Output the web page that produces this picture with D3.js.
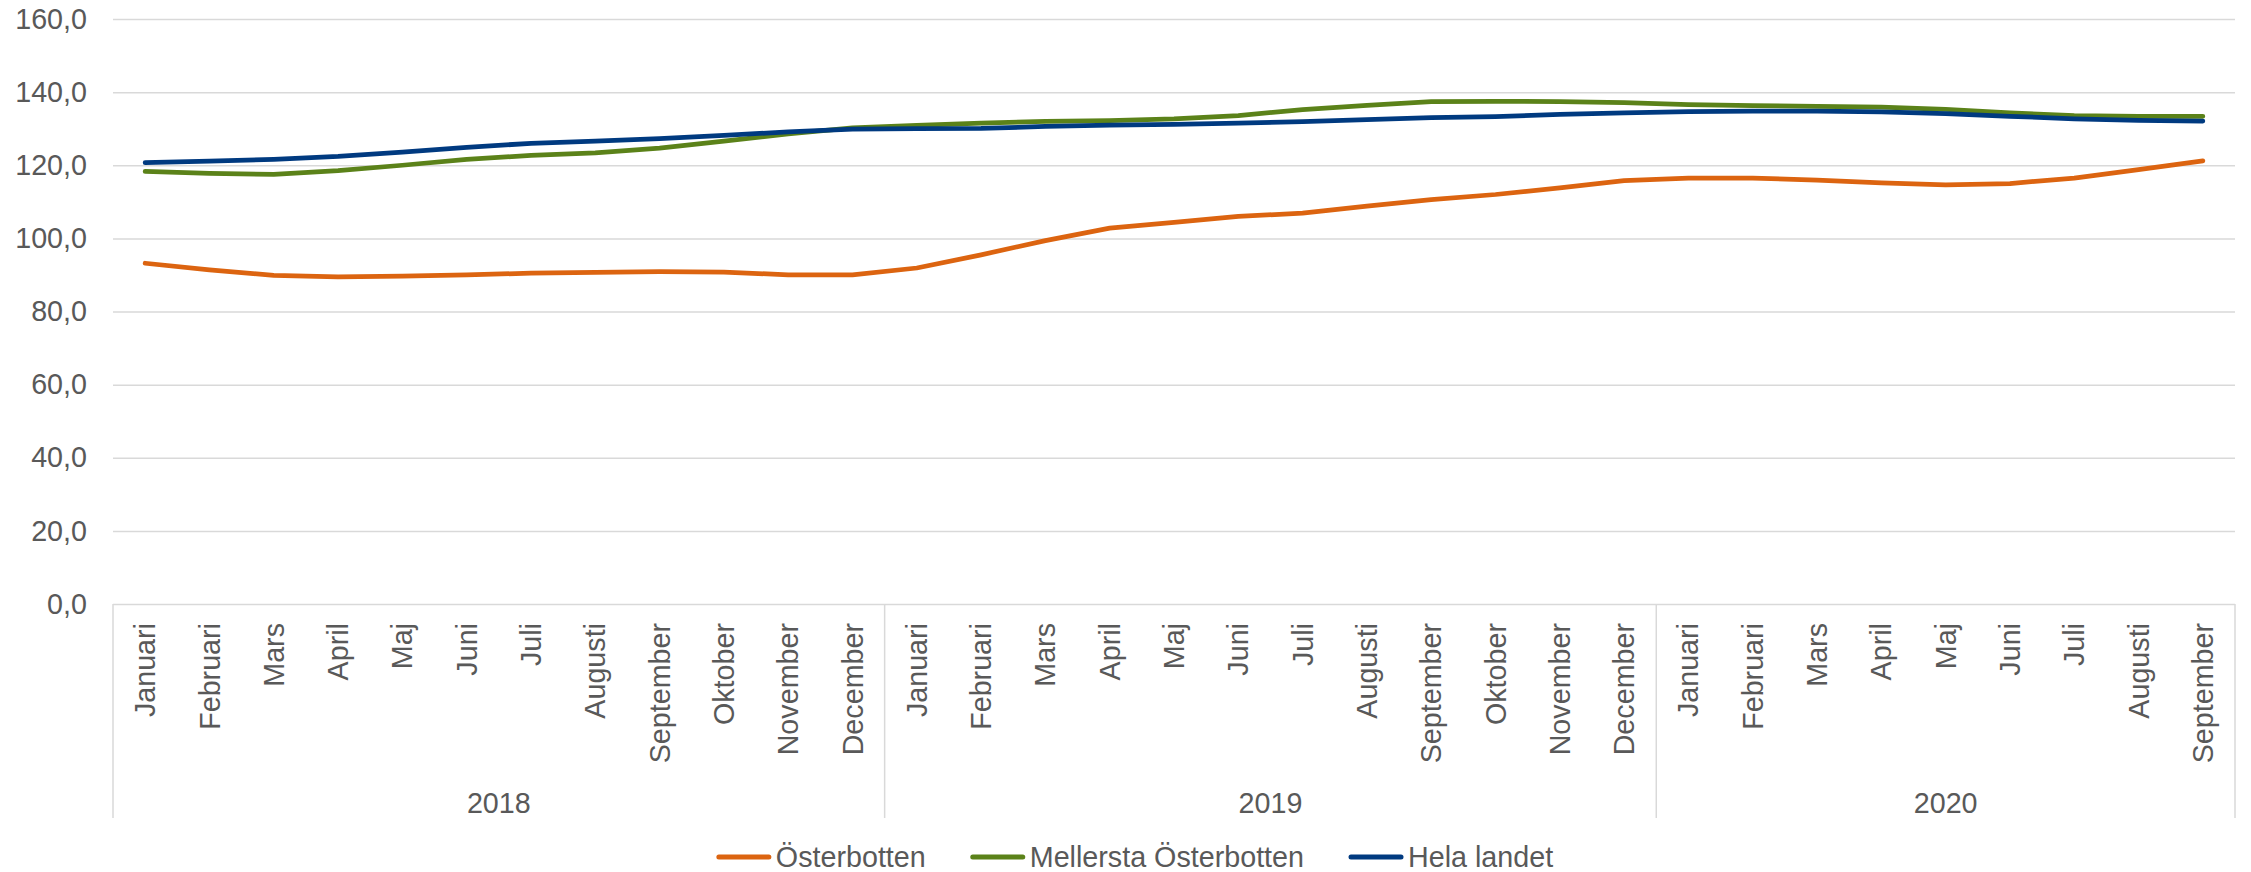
<!DOCTYPE html>
<html>
<head>
<meta charset="utf-8">
<script src="https://cdn.jsdelivr.net/npm/d3@7"></script>
<style>
  body { margin: 0; background: #fff; }
  svg { display: block; font-family: "Liberation Sans", Arial, sans-serif; }
</style>
</head>
<body>
<div id="chart"></div>
<script>
const monthNames = ['Januari', 'Februari', 'Mars', 'April', 'Maj', 'Juni', 'Juli', 'Augusti', 'September', 'Oktober', 'November', 'December'];
// 2018-01 .. 2020-09
const months = [...monthNames, ...monthNames, ...monthNames.slice(0, 9)];

const years = [
  { label: '2018', from: 0, to: 11 },
  { label: '2019', from: 12, to: 23 },
  { label: '2020', from: 24, to: 32 },
];

const osterbotten = [93.2, 91.4, 89.9, 89.5, 89.7, 90.0, 90.5, 90.7, 90.9, 90.8, 90.0, 90.0,
  91.9, 95.5, 99.4, 102.8, 104.4, 106.0, 106.9, 108.8, 110.6, 112.0, 113.8, 115.8,
  116.5, 116.5, 115.9, 115.2, 114.6, 115.0, 116.5, 118.8, 121.2];
const mellersta = [118.3, 117.8, 117.5, 118.5, 120.0, 121.6, 122.7, 123.4, 124.7, 126.6, 128.6, 130.2,
  130.9, 131.5, 132.0, 132.2, 132.7, 133.6, 135.2, 136.4, 137.4, 137.5, 137.4, 137.1,
  136.6, 136.3, 136.1, 135.9, 135.3, 134.3, 133.6, 133.4, 133.4];
const helaLandet = [120.7, 121.1, 121.6, 122.4, 123.6, 124.9, 126.0, 126.6, 127.3, 128.2, 129.1, 129.9,
  130.0, 130.1, 130.6, 131.0, 131.2, 131.5, 131.9, 132.5, 133.0, 133.3, 133.9, 134.3,
  134.7, 134.8, 134.8, 134.6, 134.1, 133.4, 132.7, 132.3, 132.1];

const seriesNames = ['Österbotten', 'Mellersta Österbotten', 'Hela landet'];
const seriesColors = ['#DC6410', '#5B8219', '#003A80'];
const yTicks = [0, 20, 40, 60, 80, 100, 120, 140, 160];

const series = [osterbotten, mellersta, helaLandet].map((values, i) => ({
  name: seriesNames[i],
  color: seriesColors[i],
  values,
}));

const width = 2251;
const height = 872;
const margin = { top: 19, right: 16, bottom: 268, left: 113 };
const textColor = '#595959';
const gridColor = '#D9D9D9';
const fontSize = 28.7;

const svg = d3.select('#chart').append('svg')
  .attr('width', width)
  .attr('height', height);

const x = d3.scaleBand()
  .domain(d3.range(months.length))
  .range([margin.left, width - margin.right]);

const y = d3.scaleLinear()
  .domain([0, 160])
  .range([height - margin.bottom, margin.top]);

const xMid = i => x(i) + x.bandwidth() / 2;

const fi = d3.formatLocale({ decimal: ',', thousands: ' ', grouping: [3], currency: ['', ''] });
const fmt = fi.format('.1f');

// y axis + gridlines
svg.append('g')
  .attr('transform', `translate(${margin.left},0)`)
  .call(d3.axisLeft(y).tickValues(yTicks).tickFormat(fmt)
    .tickSize(-(width - margin.left - margin.right)).tickPadding(26))
  .call(g => g.select('.domain').remove())
  .call(g => g.selectAll('line').attr('stroke', gridColor).attr('stroke-width', 1.5))
  .call(g => g.selectAll('text')
    .attr('fill', textColor)
    .style('font-size', `${fontSize}px`)
    .style('font-family', '"Liberation Sans", Arial, sans-serif'));

// month labels
const y0 = y(0);
svg.append('g')
  .attr('transform', `translate(0,${y0})`)
  .call(d3.axisBottom(x).tickFormat(i => months[i]).tickSize(0))
  .call(g => g.select('.domain').remove())
  .call(g => g.selectAll('text')
    .attr('transform', 'rotate(-90)')
    .attr('text-anchor', 'end')
    .attr('x', -19)
    .attr('y', 0)
    .attr('dy', '0.35em')
    .attr('fill', textColor)
    .style('font-size', `${fontSize}px`)
    .style('font-family', '"Liberation Sans", Arial, sans-serif'));

// year group separators and labels
const sepBottom = 818;
const sepX = [x(years[0].from), ...years.map(yr => x(yr.to) + x.bandwidth())];
svg.append('g')
  .selectAll('line')
  .data(sepX)
  .join('line')
    .attr('x1', d => d)
    .attr('x2', d => d)
    .attr('y1', y0)
    .attr('y2', sepBottom)
    .attr('stroke', gridColor)
    .attr('stroke-width', 1.5);

svg.append('g')
  .selectAll('text')
  .data(years)
  .join('text')
    .attr('x', d => (x(d.from) + x(d.to) + x.bandwidth()) / 2)
    .attr('y', 803)
    .attr('dy', '0.35em')
    .attr('text-anchor', 'middle')
    .attr('fill', textColor)
    .style('font-size', `${fontSize}px`)
    .text(d => d.label);

// lines
const line = d3.line()
  .x((d, i) => xMid(i))
  .y(d => y(d));

svg.append('g')
  .selectAll('path')
  .data(series)
  .join('path')
    .attr('d', d => line(d.values))
    .attr('fill', 'none')
    .attr('stroke', d => d.color)
    .attr('stroke-width', 4.75)
    .attr('stroke-linejoin', 'round')
    .attr('stroke-linecap', 'round');

// legend
const legendY = 857;
const swatch = 50;
const textGap = 7;
const legend = svg.append('g');
const items = legend.selectAll('g')
  .data(series)
  .join('g');

items.append('line')
  .attr('x1', 0)
  .attr('x2', swatch)
  .attr('y1', 0)
  .attr('y2', 0)
  .attr('stroke', d => d.color)
  .attr('stroke-width', 5)
  .attr('stroke-linecap', 'round');

items.append('text')
  .attr('x', swatch + textGap)
  .attr('dy', '0.35em')
  .attr('fill', textColor)
  .style('font-size', `${fontSize}px`)
  .text(d => d.name);

let offset = 0;
const widths = [];
items.each(function () {
  const w = swatch + textGap + d3.select(this).select('text').node().getComputedTextLength();
  widths.push(w);
});
const gap = 47;
const total = d3.sum(widths) + gap * (widths.length - 1);
const startX = 1136 - total / 2;
items.attr('transform', (d, i) => {
  const tx = startX + offset;
  offset += widths[i] + gap;
  return `translate(${tx},${legendY})`;
});
</script>
</body>
</html>
